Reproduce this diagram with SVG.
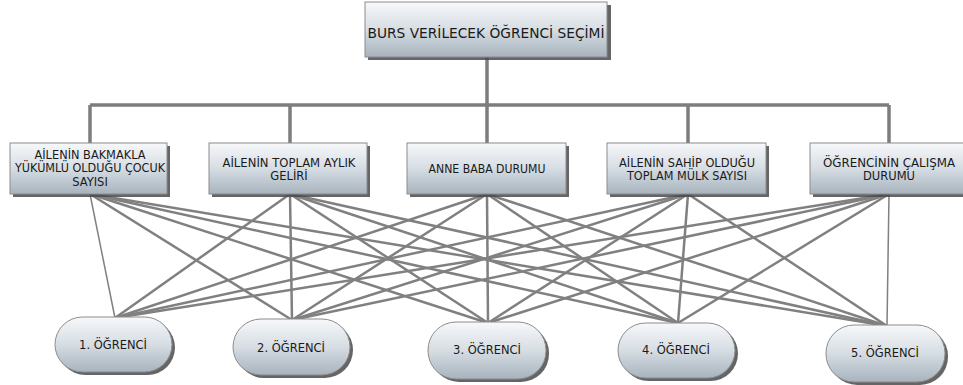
<svg xmlns="http://www.w3.org/2000/svg" width="963" height="385" viewBox="0 0 963 385">
<defs>
<linearGradient id="g" x1="0" y1="0" x2="0" y2="1">
<stop offset="0" stop-color="#f7f8fa"/>
<stop offset="0.5" stop-color="#d6dde3"/>
<stop offset="1" stop-color="#a7b3bd"/>
</linearGradient>
</defs>
<style>
.box{fill:url(#g);stroke:#8c8c8c;stroke-width:1}
.sh{fill:#4a4a4a;opacity:0.85}
.t{font-family:"DejaVu Sans",Verdana,sans-serif;font-size:11.5px;fill:#1a1a1a;text-anchor:middle}
.tt{font-family:"DejaVu Sans",Verdana,sans-serif;font-size:14px;fill:#1a1a1a;text-anchor:middle}
.c{stroke:#7d7d7d;stroke-width:3.5;fill:none}
.cl{stroke:#808080;stroke-width:2.5;fill:none}
</style>
<rect width="963" height="385" fill="#ffffff"/>
<g id="connectors">
<path class="c" d="M487 57 V105 M90 105 H889 M90 105 V143 M290 105 V143 M487 105 V143 M688 105 V143 M889 105 V143"/>
<g class="cl">
<line x1="90" y1="194" x2="115" y2="318" stroke-width="1.5"/><line x1="90" y1="194" x2="292" y2="320"/><line x1="90" y1="194" x2="488" y2="323"/><line x1="90" y1="194" x2="678" y2="323"/><line x1="90" y1="194" x2="887" y2="326"/>
<line x1="290" y1="194" x2="115" y2="318"/><line x1="290" y1="194" x2="292" y2="320"/><line x1="290" y1="194" x2="488" y2="323"/><line x1="290" y1="194" x2="678" y2="323"/><line x1="290" y1="194" x2="887" y2="326"/>
<line x1="487" y1="194" x2="115" y2="318"/><line x1="487" y1="194" x2="292" y2="320"/><line x1="487" y1="194" x2="488" y2="323"/><line x1="487" y1="194" x2="678" y2="323"/><line x1="487" y1="194" x2="887" y2="326"/>
<line x1="688" y1="194" x2="115" y2="318"/><line x1="688" y1="194" x2="292" y2="320"/><line x1="688" y1="194" x2="488" y2="323"/><line x1="688" y1="194" x2="678" y2="323"/><line x1="688" y1="194" x2="887" y2="326"/>
<line x1="889" y1="194" x2="115" y2="318"/><line x1="889" y1="194" x2="292" y2="320"/><line x1="889" y1="194" x2="488" y2="323"/><line x1="889" y1="194" x2="678" y2="323"/><line x1="889" y1="194" x2="887" y2="326" stroke-width="1.5"/>
</g>
</g>
<g id="root">
<rect class="sh" x="368" y="5" width="243" height="55"/>
<rect class="box" x="365" y="2" width="242" height="55"/>
<text class="tt" x="486" y="38" textLength="237" lengthAdjust="spacingAndGlyphs">BURS VERİLECEK ÖĞRENCİ SEÇİMİ</text>
</g>
<g id="c1">
<rect class="sh" x="13" y="146" width="157" height="51"/>
<rect class="box" x="10" y="143" width="157" height="51"/>
<text class="t" x="90" y="159" textLength="111" lengthAdjust="spacingAndGlyphs">AİLENİN BAKMAKLA</text>
<text class="t" x="90" y="172" textLength="150" lengthAdjust="spacingAndGlyphs">YÜKÜMLÜ OLDUĞU ÇOCUK</text>
<text class="t" x="90" y="186">SAYISI</text>
</g>
<g id="c2">
<rect class="sh" x="212" y="146" width="158" height="51"/>
<rect class="box" x="209" y="143" width="158" height="51"/>
<text class="t" x="289" y="167" textLength="133" lengthAdjust="spacingAndGlyphs">AİLENİN TOPLAM AYLIK</text>
<text class="t" x="289" y="180">GELİRİ</text>
</g>
<g id="c3">
<rect class="sh" x="410" y="146" width="159" height="51"/>
<rect class="box" x="407" y="143" width="159" height="51"/>
<text class="t" x="487" y="173" textLength="117" lengthAdjust="spacingAndGlyphs">ANNE BABA DURUMU</text>
</g>
<g id="c4">
<rect class="sh" x="610" y="146" width="159" height="51"/>
<rect class="box" x="607" y="143" width="159" height="51"/>
<text class="t" x="687" y="167" textLength="136" lengthAdjust="spacingAndGlyphs">AİLENİN SAHİP OLDUĞU</text>
<text class="t" x="687" y="180" textLength="120" lengthAdjust="spacingAndGlyphs">TOPLAM MÜLK SAYISI</text>
</g>
<g id="c5">
<rect class="sh" x="813" y="146" width="158" height="51"/>
<rect class="box" x="810" y="143" width="158" height="51"/>
<text class="t" x="889" y="167" textLength="132" lengthAdjust="spacingAndGlyphs">ÖĞRENCİNİN ÇALIŞMA</text>
<text class="t" x="889" y="180">DURUMU</text>
</g>
<g id="s1">
<rect class="sh" x="58" y="320" width="117" height="55" rx="27.5"/>
<rect class="box" x="55" y="317" width="117" height="55" rx="27.5"/>
<text class="t" x="113" y="349">1. ÖĞRENCİ</text>
</g>
<g id="s2">
<rect class="sh" x="236" y="322" width="117" height="56" rx="28"/>
<rect class="box" x="233" y="319" width="117" height="56" rx="28"/>
<text class="t" x="291" y="352">2. ÖĞRENCİ</text>
</g>
<g id="s3">
<rect class="sh" x="431" y="325" width="118" height="57" rx="28"/>
<rect class="box" x="428" y="322" width="118" height="57" rx="28"/>
<text class="t" x="487" y="354">3. ÖĞRENCİ</text>
</g>
<g id="s4">
<rect class="sh" x="621" y="326" width="117" height="55" rx="27.5"/>
<rect class="box" x="618" y="323" width="117" height="55" rx="27.5"/>
<text class="t" x="676" y="354">4. ÖĞRENCİ</text>
</g>
<g id="s5">
<rect class="sh" x="829" y="328" width="119" height="57" rx="28"/>
<rect class="box" x="826" y="325" width="119" height="57" rx="28"/>
<text class="t" x="885" y="357">5. ÖĞRENCİ</text>
</g>
</svg>
